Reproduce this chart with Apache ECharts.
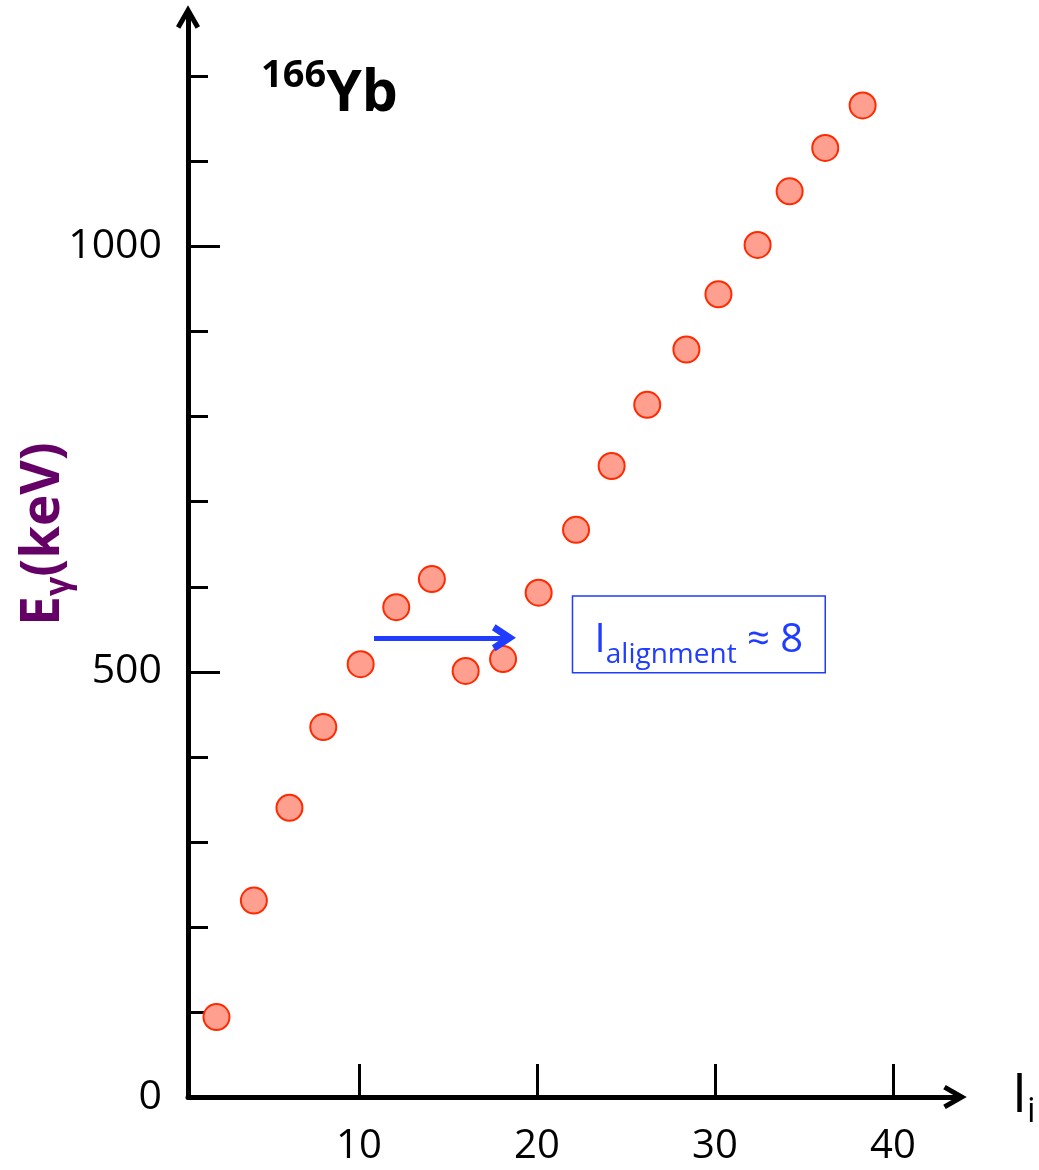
<!DOCTYPE html>
<html>
<head>
<meta charset="utf-8">
<script src="https://cdn.jsdelivr.net/npm/echarts@6/dist/echarts.min.js"></script>
<style>
  html, body { margin: 0; padding: 0; background: #ffffff; }
  #chart { width: 1039px; height: 1170px; }
</style>
</head>
<body>
<div id="chart"></div>
<script>
// 166Yb yrast band: gamma-ray energy versus spin
const spinValues    = [2.0, 4.1, 6.1, 8.0, 10.1, 12.1, 14.1, 16.0, 18.1, 20.1, 22.2, 24.2, 26.2, 28.4, 30.2, 32.4, 34.2, 36.2, 38.3];
const gammaEnergies = [94, 231, 340, 435, 509, 576, 609, 501, 515, 593, 667, 742, 814, 879, 944, 1002, 1065, 1116, 1166];

// axis ticks and labels
const xTickValues      = [10, 20, 30, 40];
const yLabelValues     = [0, 500, 1000];
const yMajorTickValues = [500, 1000];
const yMinorTickValues = [100, 200, 300, 400, 600, 700, 800, 900, 1100, 1200];

// alignment annotation (data coordinates)
const alignmentArrow = [[10.85, 540], [18.15, 540]];
const alignmentBox   = [[22.0, 589], [36.2, 499]];

const FONT = "'Open Sans', sans-serif";
const BLUE = '#1f3cff';
const PURPLE = '#650066';
// open chevron arrow head, pointing up in its own frame
const CHEVRON = 'path://M12,0 L24,21 L19.7,23.5 L12,10 L4.3,23.5 L0,21 Z';
const CHEVRON_BOLD = 'path://M12,0 L24,20 L18.6,23.5 L12,12.5 L5.4,23.5 L0,20 Z';

const points = spinValues.map((x, i) => [x, gammaEnergies[i]]);

const chart = echarts.init(document.getElementById('chart'));

const option = {
  animation: false,
  backgroundColor: '#ffffff',
  title: {
    text: '{s|166}{b|Yb}',
    left: 261,
    top: 65,
    padding: 0,
    textStyle: {
      rich: {
        s: { fontFamily: FONT, fontWeight: 'bold', fontSize: 38, lineHeight: 40, color: '#000', padding: [0, 0, 38, 0] },
        b: { fontFamily: FONT, fontWeight: 'bold', fontSize: 57, lineHeight: 60, color: '#000' }
      }
    }
  },
  grid: { left: 188, right: 84, top: 17, bottom: 73, containLabel: false, outerBoundsMode: 'none' },
  xAxis: {
    type: 'value',
    min: 0.4,
    max: 43.49,
    name: '{a|I}{b|i}',
    nameLocation: 'end',
    nameGap: 57,
    nameTextStyle: {
      rich: {
        a: { fontFamily: FONT, fontSize: 54, lineHeight: 58, color: '#000' },
        b: { fontFamily: FONT, fontSize: 34, lineHeight: 34, color: '#000', padding: [30, 0, 0, 0] }
      }
    },
    axisLine: {
      show: true,
      symbol: ['none', CHEVRON],
      symbolSize: [24, 24],
      lineStyle: { color: '#000', width: 5 }
    },
    axisTick: {
      show: true,
      inside: true,
      length: 33,
      customValues: xTickValues,
      lineStyle: { color: '#000', width: 3 }
    },
    axisLabel: {
      show: true,
      customValues: xTickValues,
      formatter: (v) => String(v),
      margin: 30,
      fontFamily: FONT,
      fontSize: 40,
      color: '#000'
    },
    splitLine: { show: false }
  },
  yAxis: [
    {
      type: 'value',
      position: 'left',
      min: 0,
      max: 1270,
      axisLine: {
        show: true,
        symbol: ['none', CHEVRON],
        symbolSize: [24, 24],
        lineStyle: { color: '#000', width: 5 }
      },
      axisTick: {
        show: true,
        inside: true,
        length: 32,
        customValues: yMajorTickValues,
        lineStyle: { color: '#000', width: 3 }
      },
      axisLabel: {
        show: true,
        customValues: yLabelValues,
        formatter: (v) => String(v),
        margin: 26,
        fontFamily: FONT,
        fontSize: 41,
        color: '#000'
      },
      splitLine: { show: false }
    },
    {
      type: 'value',
      position: 'left',
      offset: 0,
      min: 0,
      max: 1270,
      axisLine: { show: false },
      axisTick: {
        show: true,
        inside: true,
        length: 20,
        customValues: yMinorTickValues,
        lineStyle: { color: '#000', width: 3 }
      },
      axisLabel: { show: false },
      splitLine: { show: false }
    }
  ],
  graphic: [
    {
      type: 'text',
      x: 44,
      y: 534,
      rotation: Math.PI / 2,
      style: {
        text: '{e|E}{g|γ}{e|(keV)}',
        align: 'center',
        verticalAlign: 'middle',
        rich: {
          e: { fontFamily: FONT, fontWeight: 'bold', fontSize: 53, lineHeight: 60, fill: PURPLE, color: PURPLE },
          g: { fontFamily: FONT, fontWeight: 'bold', fontSize: 34, lineHeight: 34, fill: PURPLE, color: PURPLE, padding: [30, 0, 0, 0] }
        }
      }
    }
  ],
  series: [
    {
      type: 'scatter',
      xAxisIndex: 0,
      yAxisIndex: 0,
      data: points,
      symbol: 'circle',
      symbolSize: 26,
      itemStyle: { color: '#ff9f8f', borderColor: '#ff2a00', borderWidth: 2, opacity: 1 },
      emphasis: { disabled: true },
      markLine: {
        silent: true,
        symbol: ['none', CHEVRON_BOLD],
        symbolSize: [27, 24],
        lineStyle: { color: BLUE, width: 5, type: 'solid' },
        label: { show: false },
        emphasis: { disabled: true },
        data: [[{ coord: alignmentArrow[0] }, { coord: alignmentArrow[1] }]]
      },
      markArea: {
        silent: true,
        itemStyle: { color: 'rgba(0,0,0,0)', borderColor: BLUE, borderWidth: 1.5 },
        label: {
          show: true,
          position: 'inside',
          padding: [12, 0, 0, 0],
          formatter: '{i|I}{s|alignment}{r| ≈ 8}',
          rich: {
            i: { fontFamily: FONT, fontSize: 40, lineHeight: 44, color: BLUE },
            s: { fontFamily: FONT, fontSize: 28, lineHeight: 28, color: BLUE, padding: [30, 0, 0, 0] },
            r: { fontFamily: FONT, fontSize: 40, lineHeight: 44, color: BLUE }
          }
        },
        emphasis: { disabled: true },
        data: [[{ coord: alignmentBox[0] }, { coord: alignmentBox[1] }]]
      }
    }
  ]
};

chart.setOption(option);
</script>
</body>
</html>
